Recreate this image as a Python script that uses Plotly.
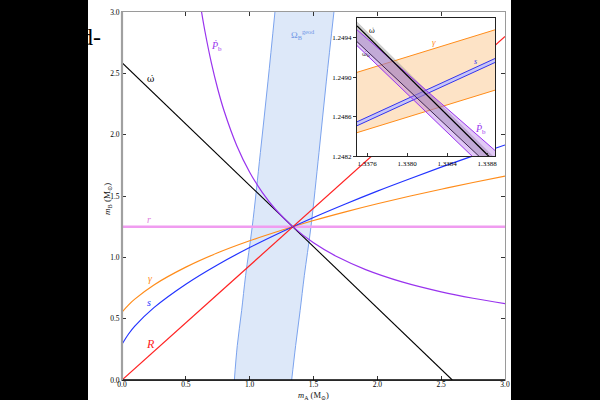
import plotly.graph_objects as go

# ---------------- data ----------------
# main panel: companion mass m_B versus pulsar mass m_A
ma_grid = [0, 0.05, 0.1, 0.25, 0.5, 0.75, 1.0, 1.25, 1.5, 1.75, 2.0, 2.25, 2.5, 2.75, 3.0]
s_mb = [0.291, 0.373, 0.439, 0.590, 0.781, 0.940, 1.080, 1.207, 1.325, 1.435, 1.540, 1.639, 1.735, 1.827, 1.916]
gamma_mb = [0.554, 0.611, 0.659, 0.775, 0.920, 1.037, 1.135, 1.221, 1.300, 1.371, 1.437, 1.498, 1.555, 1.610, 1.662]

pbdot_ma = [0.6232, 0.65, 0.7, 0.75, 0.8, 0.9, 1.0, 1.1, 1.2, 1.3369, 1.5, 1.6939, 1.9083, 2.193, 2.5, 2.75, 3.0]
pbdot_mb = [3.0, 2.841, 2.5853, 2.3724, 2.193, 1.9083, 1.6939, 1.5272, 1.3939, 1.25, 1.1186, 1.0, 0.9, 0.8, 0.719, 0.6667, 0.6232]

omdot_ma = [0.0, 2.587]
omdot_mb = [2.587, 0.0]
R_ma = [0.0, 3.0]
R_mb = [0.0, 2.800]
r_ma = [0.0, 3.0]
r_mb = [1.249, 1.249]

geod_mb = [0.0, 0.28, 0.565, 0.85, 1.249, 1.855, 2.43, 3.0]
geod_lo = [0.880, 0.903, 0.937, 0.968, 1.020, 1.084, 1.143, 1.198]
geod_hi = [1.329, 1.360, 1.395, 1.428, 1.480, 1.543, 1.600, 1.660]

main_ticks = [0.0, 0.5, 1.0, 1.5, 2.0, 2.5, 3.0]

# inset panel (zoom around the crossing point)
in_x = [1.3375, 1.33888]
gamma_hi_in = [1.24905, 1.24948]
gamma_lo_in = [1.24844, 1.24887]
s_hi_in = [1.24855, 1.24919]
s_lo_in = [1.24851, 1.24915]
omdot_hi_in = [1.24956, 1.24818]
omdot_mid_in = [1.24952, 1.24814]
omdot_lo_in = [1.24936, 1.24805]
pb_hi_in = [1.24948, 1.24826]
pb_lo_in = [1.24932, 1.24798]
in_xticks = [1.3376, 1.3380, 1.3384, 1.3388]
in_yticks = [1.2482, 1.2486, 1.2490, 1.2494]
in_xrange = [1.3375, 1.33888]
in_yrange = [1.2482, 1.2496]

# ---------------- colours ----------------
C_BLACK = "#000000"
C_PURPLE = "#9933ee"
C_ORANGE = "#ff8c1a"
C_BLUE = "#2233ff"
C_RED = "#ff2222"
C_PINK = "#f09cf0"
C_GEOD_LINE = "#7ba3ee"
C_GEOD_FILL = "#dde8f9"

SERIF = "Liberation Serif, DejaVu Serif, serif"
DSERIF = "DejaVu Serif, serif"

# layout geometry in pixels
W, H = 600, 400
L, R_, T, B = 122, 95, 8, 20
PW, PH = W - L - R_, H - T - B


def px(x):
    return (x - L) / PW


def py(y):
    return (H - B - y) / PH


fig = go.Figure()

# geodetic precession band
fig.add_trace(go.Scatter(x=geod_lo, y=geod_mb, mode="lines", line=dict(color=C_GEOD_LINE, width=1, shape="spline"),
                         showlegend=False, hoverinfo="skip"))
fig.add_trace(go.Scatter(x=geod_hi, y=geod_mb, mode="lines", line=dict(color=C_GEOD_LINE, width=1, shape="spline"),
                         fill="tonextx", fillcolor=C_GEOD_FILL, showlegend=False, hoverinfo="skip"))

fig.add_trace(go.Scatter(x=r_ma, y=r_mb, mode="lines", line=dict(color=C_PINK, width=2.5), showlegend=False))
fig.add_trace(go.Scatter(x=ma_grid, y=gamma_mb, mode="lines", line=dict(color=C_ORANGE, width=1.2, shape="spline"), showlegend=False))
fig.add_trace(go.Scatter(x=ma_grid, y=s_mb, mode="lines", line=dict(color=C_BLUE, width=1.2, shape="spline"), showlegend=False))
fig.add_trace(go.Scatter(x=R_ma, y=R_mb, mode="lines", line=dict(color=C_RED, width=1.2), showlegend=False))
fig.add_trace(go.Scatter(x=omdot_ma, y=omdot_mb, mode="lines", line=dict(color=C_BLACK, width=1.1), showlegend=False))
fig.add_trace(go.Scatter(x=pbdot_ma, y=pbdot_mb, mode="lines", line=dict(color=C_PURPLE, width=1.2, shape="spline"), showlegend=False))

# ---------------- inset ----------------
ins = dict(xaxis="x2", yaxis="y2", mode="lines", showlegend=False, hoverinfo="skip")
fig.add_trace(go.Scatter(x=in_x, y=gamma_lo_in, line=dict(color=C_ORANGE, width=1), **ins))
fig.add_trace(go.Scatter(x=in_x, y=gamma_hi_in, line=dict(color=C_ORANGE, width=1), fill="tonexty", fillcolor="#fde3c6", **ins))
fig.add_trace(go.Scatter(x=in_x, y=s_lo_in, line=dict(color="#3333ee", width=1), **ins))
fig.add_trace(go.Scatter(x=in_x, y=s_hi_in, line=dict(color="#3333ee", width=1), fill="tonexty", fillcolor="#c8c6f6", **ins))
fig.add_trace(go.Scatter(x=in_x, y=omdot_hi_in, line=dict(color="rgba(150,150,150,0.6)", width=0.5), **ins))
fig.add_trace(go.Scatter(x=in_x, y=omdot_lo_in, line=dict(color=C_BLACK, width=1), fill="tonexty", fillcolor="rgba(150,150,150,0.45)", **ins))
fig.add_trace(go.Scatter(x=in_x, y=pb_hi_in, line=dict(color=C_PURPLE, width=1), **ins))
fig.add_trace(go.Scatter(x=in_x, y=pb_lo_in, line=dict(color=C_PURPLE, width=1), fill="tonexty", fillcolor="rgba(170,100,230,0.35)", **ins))
fig.add_trace(go.Scatter(x=in_x, y=omdot_mid_in, line=dict(color=C_BLACK, width=1.3), **ins))

tickfont = dict(family=SERIF, size=7.5, color="black")
fig.update_layout(
    width=W, height=H,
    margin=dict(l=L, r=R_, t=T, b=B, pad=0),
    paper_bgcolor="white", plot_bgcolor="white",
    xaxis=dict(domain=[0, 1], range=[0, 3], tickvals=main_ticks, ticktext=[f"{v:.1f}" for v in main_ticks],
               showgrid=False, zeroline=False, showline=True, linecolor="#9a9a9a", linewidth=1,
               mirror="ticks", ticks="inside", ticklen=4, tickcolor="#333", tickfont=tickfont,
               ticklabelstandoff=-3),
    yaxis=dict(domain=[0, 1], range=[0, 3], tickvals=main_ticks, ticktext=[f"{v:.1f}" for v in main_ticks],
               showgrid=False, zeroline=False, showline=True, linecolor="#9a9a9a", linewidth=1,
               mirror="ticks", ticks="inside", ticklen=4, tickcolor="#333", tickfont=tickfont),
    xaxis2=dict(domain=[px(357), px(495)], anchor="y2", range=in_xrange, tickvals=in_xticks,
                ticktext=[f"{v:.4f}" for v in in_xticks], showgrid=False, zeroline=False, showline=True,
                linecolor="#222", linewidth=1, mirror=True, ticks="inside", ticklen=3, tickcolor="#333",
                tickfont=dict(family=SERIF, size=7, color="black")),
    yaxis2=dict(domain=[py(154), py(14)], anchor="x2", range=in_yrange, tickvals=in_yticks,
                ticktext=[f"{v:.4f}" for v in in_yticks], showgrid=False, zeroline=False, showline=True,
                linecolor="#222", linewidth=1, mirror=True, ticks="outside", ticklen=3, tickcolor="#333",
                tickfont=dict(family=SERIF, size=7, color="black")),
)

shapes = [
    # opaque backing of the inset (drawn in the inset's own layer, below its traces)
    dict(type="rect", xref="x2", yref="y2", x0=in_xrange[0], x1=in_xrange[1], y0=in_yrange[0], y1=in_yrange[1],
         fillcolor="white", line=dict(width=0), layer="below"),
    # frame emphasis: black bottom, thicker grey left
    dict(type="line", xref="paper", yref="paper", x0=0, x1=1, y0=0, y1=0, line=dict(color="black", width=1.5), layer="above"),
    dict(type="line", xref="paper", yref="paper", x0=0, x1=0, y0=0, y1=1, line=dict(color="#a0a0a0", width=2.2), layer="above"),
    # black side bands of the picture
    dict(type="rect", xref="paper", yref="paper", x0=px(-5), x1=px(88), y0=py(410), y1=py(-10),
         fillcolor="black", line=dict(width=0), layer="above"),
    dict(type="rect", xref="paper", yref="paper", x0=px(511), x1=px(610), y0=py(410), y1=py(-10),
         fillcolor="black", line=dict(width=0), layer="above"),
]
fig.update_layout(shapes=shapes)


def lab(text, x, y, color, size=10, family=SERIF, **kw):
    fig.add_annotation(text=text, x=px(x), y=py(y), xref="paper", yref="paper", showarrow=False,
                       xanchor=kw.pop("xanchor", "center"), yanchor=kw.pop("yanchor", "middle"),
                       font=dict(family=family, size=size, color=color), **kw)


lab("ω̇", 150, 76, C_BLACK, size=9, family=DSERIF)
lab("<i>Ṗ</i><sub>b</sub>", 216, 43, C_PURPLE)
lab("Ω<sub>B</sub><sup>geod</sup>", 303, 31, "#6f96e6", size=9)
lab("<i>r</i>", 149, 218, "#e080e0")
lab("<i>γ</i>", 150, 277, C_ORANGE)
lab("<i>s</i>", 149, 302, C_BLUE)
lab("<i>R</i>", 150, 344, C_RED, size=12)
# inset labels
lab("ω̇", 372, 27, C_BLACK, size=7, family=DSERIF)
lab("ω̇<sub>b</sub>", 366, 50, "#333", size=6, family=DSERIF)
lab("<i>γ</i>", 434, 38, C_ORANGE, size=9)
lab("<i>s</i>", 475, 58, "#3333ee", size=8)
lab("<i>Ṗ</i><sub>b</sub>", 480, 127, C_PURPLE, size=10)
# axis titles
lab("<i>m</i><sub>A</sub> (M<sub>⊙</sub>)", 313, 395.5, "#111", size=8.5)
lab("<i>m</i><sub>B</sub> (M<sub>⊙</sub>)", 108, 197, "#111", size=9, textangle=-90)
# clipped panel letter at the left edge
lab("d-", 103, 33, "black", size=24, xanchor="right")

fig.write_html("out.html")
